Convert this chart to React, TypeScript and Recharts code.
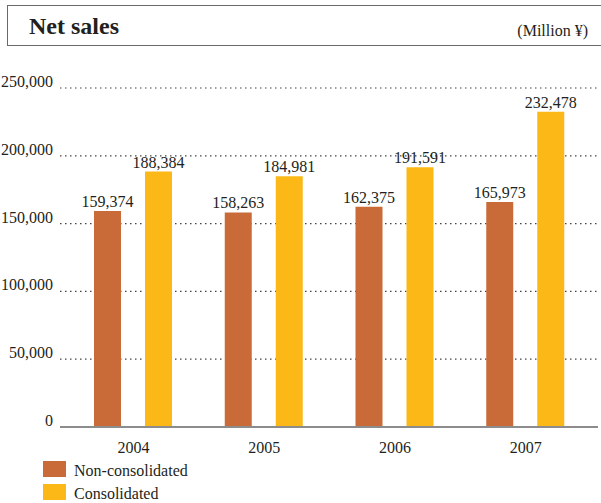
import React from 'react';
import { BarChart, Bar, XAxis, YAxis, CartesianGrid, LabelList } from 'recharts';

const years = ['2004', '2005', '2006', '2007'];
const nonConsolidated = [159374, 158263, 162375, 165973];
const consolidated = [188384, 184981, 191591, 232478];
const yTicks = [0, 50000, 100000, 150000, 200000, 250000];
const seriesNames = ['Non-consolidated', 'Consolidated'];
const title = 'Net sales';
const unit = '(Million ¥)';

const ORANGE = '#C96B38';
const YELLOW = '#FBB817';
const TEXT = '#231F20';
const FONT = '"Liberation Serif", "Times New Roman", serif';

const data = years.map((y, i) => ({
  year: y,
  non: nonConsolidated[i],
  con: consolidated[i],
}));

const fmt = (v: number) => v.toLocaleString('en-US');

const YTick = (props: any) => {
  const { x, y, payload } = props;
  return (
    <text x={x} y={y - 1} textAnchor="end" fontSize={16} fill={TEXT} fontFamily={FONT}>
      {fmt(payload.value)}
    </text>
  );
};

const XTick = (props: any) => {
  const { x, y, payload } = props;
  return (
    <text x={x} y={y} dy={11} textAnchor="middle" fontSize={16} fill={TEXT} fontFamily={FONT}>
      {payload.value}
    </text>
  );
};

const LegendBlock = () => {
  const colors = [ORANGE, YELLOW];
  return (
    <div style={{ position: 'absolute', left: 43, top: 461, fontFamily: FONT, fontSize: 16, color: TEXT }}>
      {seriesNames.map((n, i) => (
        <div key={n} style={{ display: 'flex', alignItems: 'flex-end', height: 16, marginBottom: 7 }}>
          <div style={{ width: 23, height: 16, background: colors[i], marginRight: 8, flex: 'none' }} />
          <span style={{ lineHeight: '16px', position: 'relative', top: 2, whiteSpace: 'nowrap' }}>{n}</span>
        </div>
      ))}
    </div>
  );
};

export default function App() {
  return (
    <div style={{ position: 'absolute', left: 0, top: 0, width: 601, height: 503, background: '#fff', overflow: 'hidden' }}>
      <div
        style={{
          position: 'absolute',
          left: 7,
          top: 5,
          width: 620,
          height: 41,
          border: '1.5px solid #6a6a6a',
          boxSizing: 'border-box',
        }}
      />
      <div style={{ position: 'absolute', left: 29, top: 11, fontFamily: FONT, fontWeight: 'bold', fontSize: 24, color: TEXT, lineHeight: '30px' }}>
        {title}
      </div>
      <div style={{ position: 'absolute', right: 13, top: 21, fontFamily: FONT, fontSize: 16, color: TEXT, lineHeight: '20px' }}>
        {unit}
      </div>
      <div style={{ position: 'absolute', left: 0, top: 0 }}>
        <BarChart
          width={601}
          height={503}
          data={data}
          margin={{ top: 88, right: 3, bottom: 46, left: 0 }}
          barSize={27}
          barGap={24}
        >
          <CartesianGrid horizontal vertical={false} stroke="#444" strokeDasharray="1.5 3.5" strokeWidth={1.2} />
          <XAxis
            dataKey="year"
            axisLine={{ stroke: '#8c8c8c', strokeWidth: 2 }}
            tickLine={false}
            tickSize={0}
            tickMargin={15}
            height={30}
            padding={{ left: 8, right: 7 }}
            tick={<XTick />}
            interval={0}
          />
          <YAxis
            domain={[0, 250000]}
            ticks={yTicks}
            width={60}
            axisLine={false}
            tickLine={false}
            tickSize={0}
            tickMargin={7}
            tick={<YTick />}
            interval={0}
          />
          <Bar dataKey="non" name={seriesNames[0]} fill={ORANGE} isAnimationActive={false}>
            <LabelList dataKey="non" position="top" offset={4} formatter={(v: any) => fmt(Number(v))} fontSize={16} fill={TEXT} fontFamily={FONT} />
          </Bar>
          <Bar dataKey="con" name={seriesNames[1]} fill={YELLOW} isAnimationActive={false}>
            <LabelList dataKey="con" position="top" offset={4} formatter={(v: any) => fmt(Number(v))} fontSize={16} fill={TEXT} fontFamily={FONT} />
          </Bar>
        </BarChart>
      </div>
      <LegendBlock />
    </div>
  );
}
